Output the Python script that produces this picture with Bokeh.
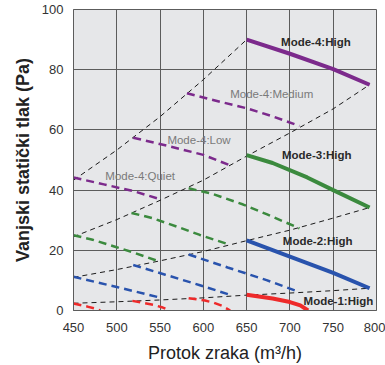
from bokeh.plotting import figure
from bokeh.models import Range1d, FixedTicker, ColumnDataSource
from bokeh.embed import file_html
from bokeh.resources import INLINE
from bokeh.core.properties import value

# ---------------- data ----------------
x_ticks = [450, 500, 550, 600, 650, 700, 750, 800]
y_ticks = [0, 20, 40, 60, 80, 100]

# system curves (black dashed)
sys_a_q = [450, 500, 550, 600, 650]
sys_a_p = [43.3, 53.3, 64.4, 76.7, 90.0]
sys_b_q = [450, 500, 550, 600, 650, 700, 750, 792]
sys_b_p = [24.5, 30.2, 36.6, 43.3, 51.3, 59.0, 67.0, 75.0]
sys_c_q = [450, 500, 550, 600, 650, 700, 750, 792]
sys_c_p = [11.0, 13.6, 16.5, 19.6, 23.2, 26.7, 30.7, 34.2]
sys_d_q = [450, 500, 550, 600, 650, 700, 750, 792]
sys_d_p = [2.4, 2.9, 3.5, 4.2, 5.1, 5.8, 6.6, 7.4]

# Mode-4 (purple)
m4_high_q = [650, 700, 750, 792]
m4_high_p = [90.0, 85.3, 80.2, 75.0]
m4_med_q = [581, 620, 650, 680, 711]
m4_med_p = [72.2, 69.3, 67.2, 64.5, 61.3]
m4_low_q = [519, 560, 600, 631]
m4_low_p = [57.4, 54.6, 51.7, 48.2]
m4_quiet_q = [450, 485, 520, 550]
m4_quiet_p = [44.2, 41.9, 39.6, 37.0]

# Mode-3 (green)
m3_high_q = [650, 680, 720, 750, 792]
m3_high_p = [51.6, 49.0, 44.2, 40.0, 34.2]
m3_med_q = [583, 610, 646, 673, 711]
m3_med_p = [40.6, 38.8, 35.2, 32.0, 27.3]
m3_low_q = [517, 541, 572, 596, 631]
m3_low_p = [32.4, 30.7, 27.6, 25.1, 21.8]
m3_quiet_q = [450, 471, 498, 519, 550]
m3_quiet_p = [25.0, 23.6, 21.2, 19.3, 16.2]

# Mode-2 (blue)
m2_high_q = [650, 700, 750, 792]
m2_high_p = [23.3, 17.9, 12.5, 7.4]
m2_med_q = [583, 628, 673, 711]
m2_med_p = [18.6, 14.3, 10.1, 6.1]
m2_low_q = [519, 556, 596, 631]
m2_low_p = [15.1, 11.9, 8.4, 5.2]
m2_quiet_q = [450, 500, 550]
m2_quiet_p = [11.2, 7.8, 4.3]

# Mode-1 (red)
m1_high_q = [650, 680, 700, 712, 721]
m1_high_p = [5.2, 4.0, 2.8, 1.7, 0.0]
m1_med_q = [583, 602, 612, 622, 631]
m1_med_p = [4.1, 3.3, 2.6, 1.5, 0.0]
m1_low_q = [518, 542, 552, 561]
m1_low_p = [3.2, 1.9, 1.1, 0.0]
m1_quiet_q = [450, 466, 474, 481]
m1_quiet_p = [2.3, 1.3, 0.7, 0.0]

bold_labels = ["Mode-4:High", "Mode-3:High", "Mode-2:High", "Mode-1:High"]
bold_x = [730, 731, 732, 756]
bold_y = [89.3, 51.5, 23.0, 3.0]
gray_labels = ["Mode-4:Medium", "Mode-4:Low", "Mode-4:Quiet"]
gray_x = [679, 595, 527]
gray_y = [72.0, 56.7, 44.7]

# ---------------- styles ----------------
PURPLE = "#7c2a8c"
GREEN = "#3b8a3e"
BLUE = "#2953ad"
RED = "#ee2a2a"
GRID = "#5c5c5c"
FONT = "Liberation Sans"

p = figure(frame_width=303, frame_height=301,
           min_border_left=73, min_border_right=9,
           min_border_top=9, min_border_bottom=55,
           x_range=Range1d(450, 800), y_range=Range1d(0, 100),
           output_backend="svg", toolbar_location=None)

p.background_fill_color = "#e6e7e9"
p.border_fill_color = "white"
p.outline_line_color = GRID
p.outline_line_width = 1

for ax, ticks in ((p.xaxis[0], x_ticks), (p.yaxis[0], y_ticks)):
    ax.ticker = FixedTicker(ticks=ticks)
    ax.major_tick_line_color = None
    ax.minor_tick_line_color = None
    ax.major_tick_out = 0
    ax.major_tick_in = 0
    ax.minor_tick_out = 0
    ax.axis_line_color = GRID
    ax.major_label_text_font = FONT
    ax.major_label_text_font_size = "13px"
    ax.major_label_text_color = "#333333"
    ax.axis_label_text_font = FONT
    ax.axis_label_text_font_size = "18px"
    ax.axis_label_text_color = "#222222"

p.xaxis.major_label_standoff = 12
p.yaxis.major_label_standoff = 10
p.xaxis.axis_label = "Protok zraka (m\u00b3/h)"
p.xaxis.axis_label_text_font_style = "normal"
p.xaxis.axis_label_standoff = 8
p.yaxis.axis_label = "Vanjski statički tlak (Pa)"
p.yaxis.axis_label_text_font_style = "bold"
p.yaxis.axis_label_standoff = 6

p.xgrid.ticker = FixedTicker(ticks=x_ticks)
p.ygrid.ticker = FixedTicker(ticks=y_ticks)
for g in (p.xgrid[0], p.ygrid[0]):
    g.grid_line_color = GRID
    g.grid_line_width = 1
    g.grid_line_alpha = 1.0

# system curves
for q, pr in ((sys_a_q, sys_a_p), (sys_b_q, sys_b_p), (sys_c_q, sys_c_p), (sys_d_q, sys_d_p)):
    p.line(q, pr, line_color="#1a1a1a", line_width=1, line_dash="5 4")

# dashed fan curves (lower speeds)
dashed = [
    (PURPLE, [(m4_med_q, m4_med_p), (m4_low_q, m4_low_p), (m4_quiet_q, m4_quiet_p)]),
    (GREEN, [(m3_med_q, m3_med_p), (m3_low_q, m3_low_p), (m3_quiet_q, m3_quiet_p)]),
    (BLUE, [(m2_med_q, m2_med_p), (m2_low_q, m2_low_p), (m2_quiet_q, m2_quiet_p)]),
    (RED, [(m1_med_q, m1_med_p), (m1_low_q, m1_low_p), (m1_quiet_q, m1_quiet_p)]),
]
for color, curves in dashed:
    for q, pr in curves:
        p.line(q, pr, line_color=color, line_width=2.5, line_dash="8 5")

# solid high curves
for color, q, pr in ((PURPLE, m4_high_q, m4_high_p), (GREEN, m3_high_q, m3_high_p),
                     (BLUE, m2_high_q, m2_high_p), (RED, m1_high_q, m1_high_p)):
    p.line(q, pr, line_color=color, line_width=4)

bold_src = ColumnDataSource(dict(x=bold_x, y=bold_y, t=bold_labels))
p.text(x="x", y="y", text="t", source=bold_src, text_font=value(FONT),
       text_font_size=value("11.5px"), text_font_style="bold", text_color="#2a2a2a",
       text_align="center", text_baseline="middle")
gray_src = ColumnDataSource(dict(x=gray_x, y=gray_y, t=gray_labels))
p.text(x="x", y="y", text="t", source=gray_src, text_font=value(FONT),
       text_font_size=value("11.5px"), text_color="#7a7a7a",
       text_align="center", text_baseline="middle")

open("out.html", "w").write(file_html(p, INLINE))
